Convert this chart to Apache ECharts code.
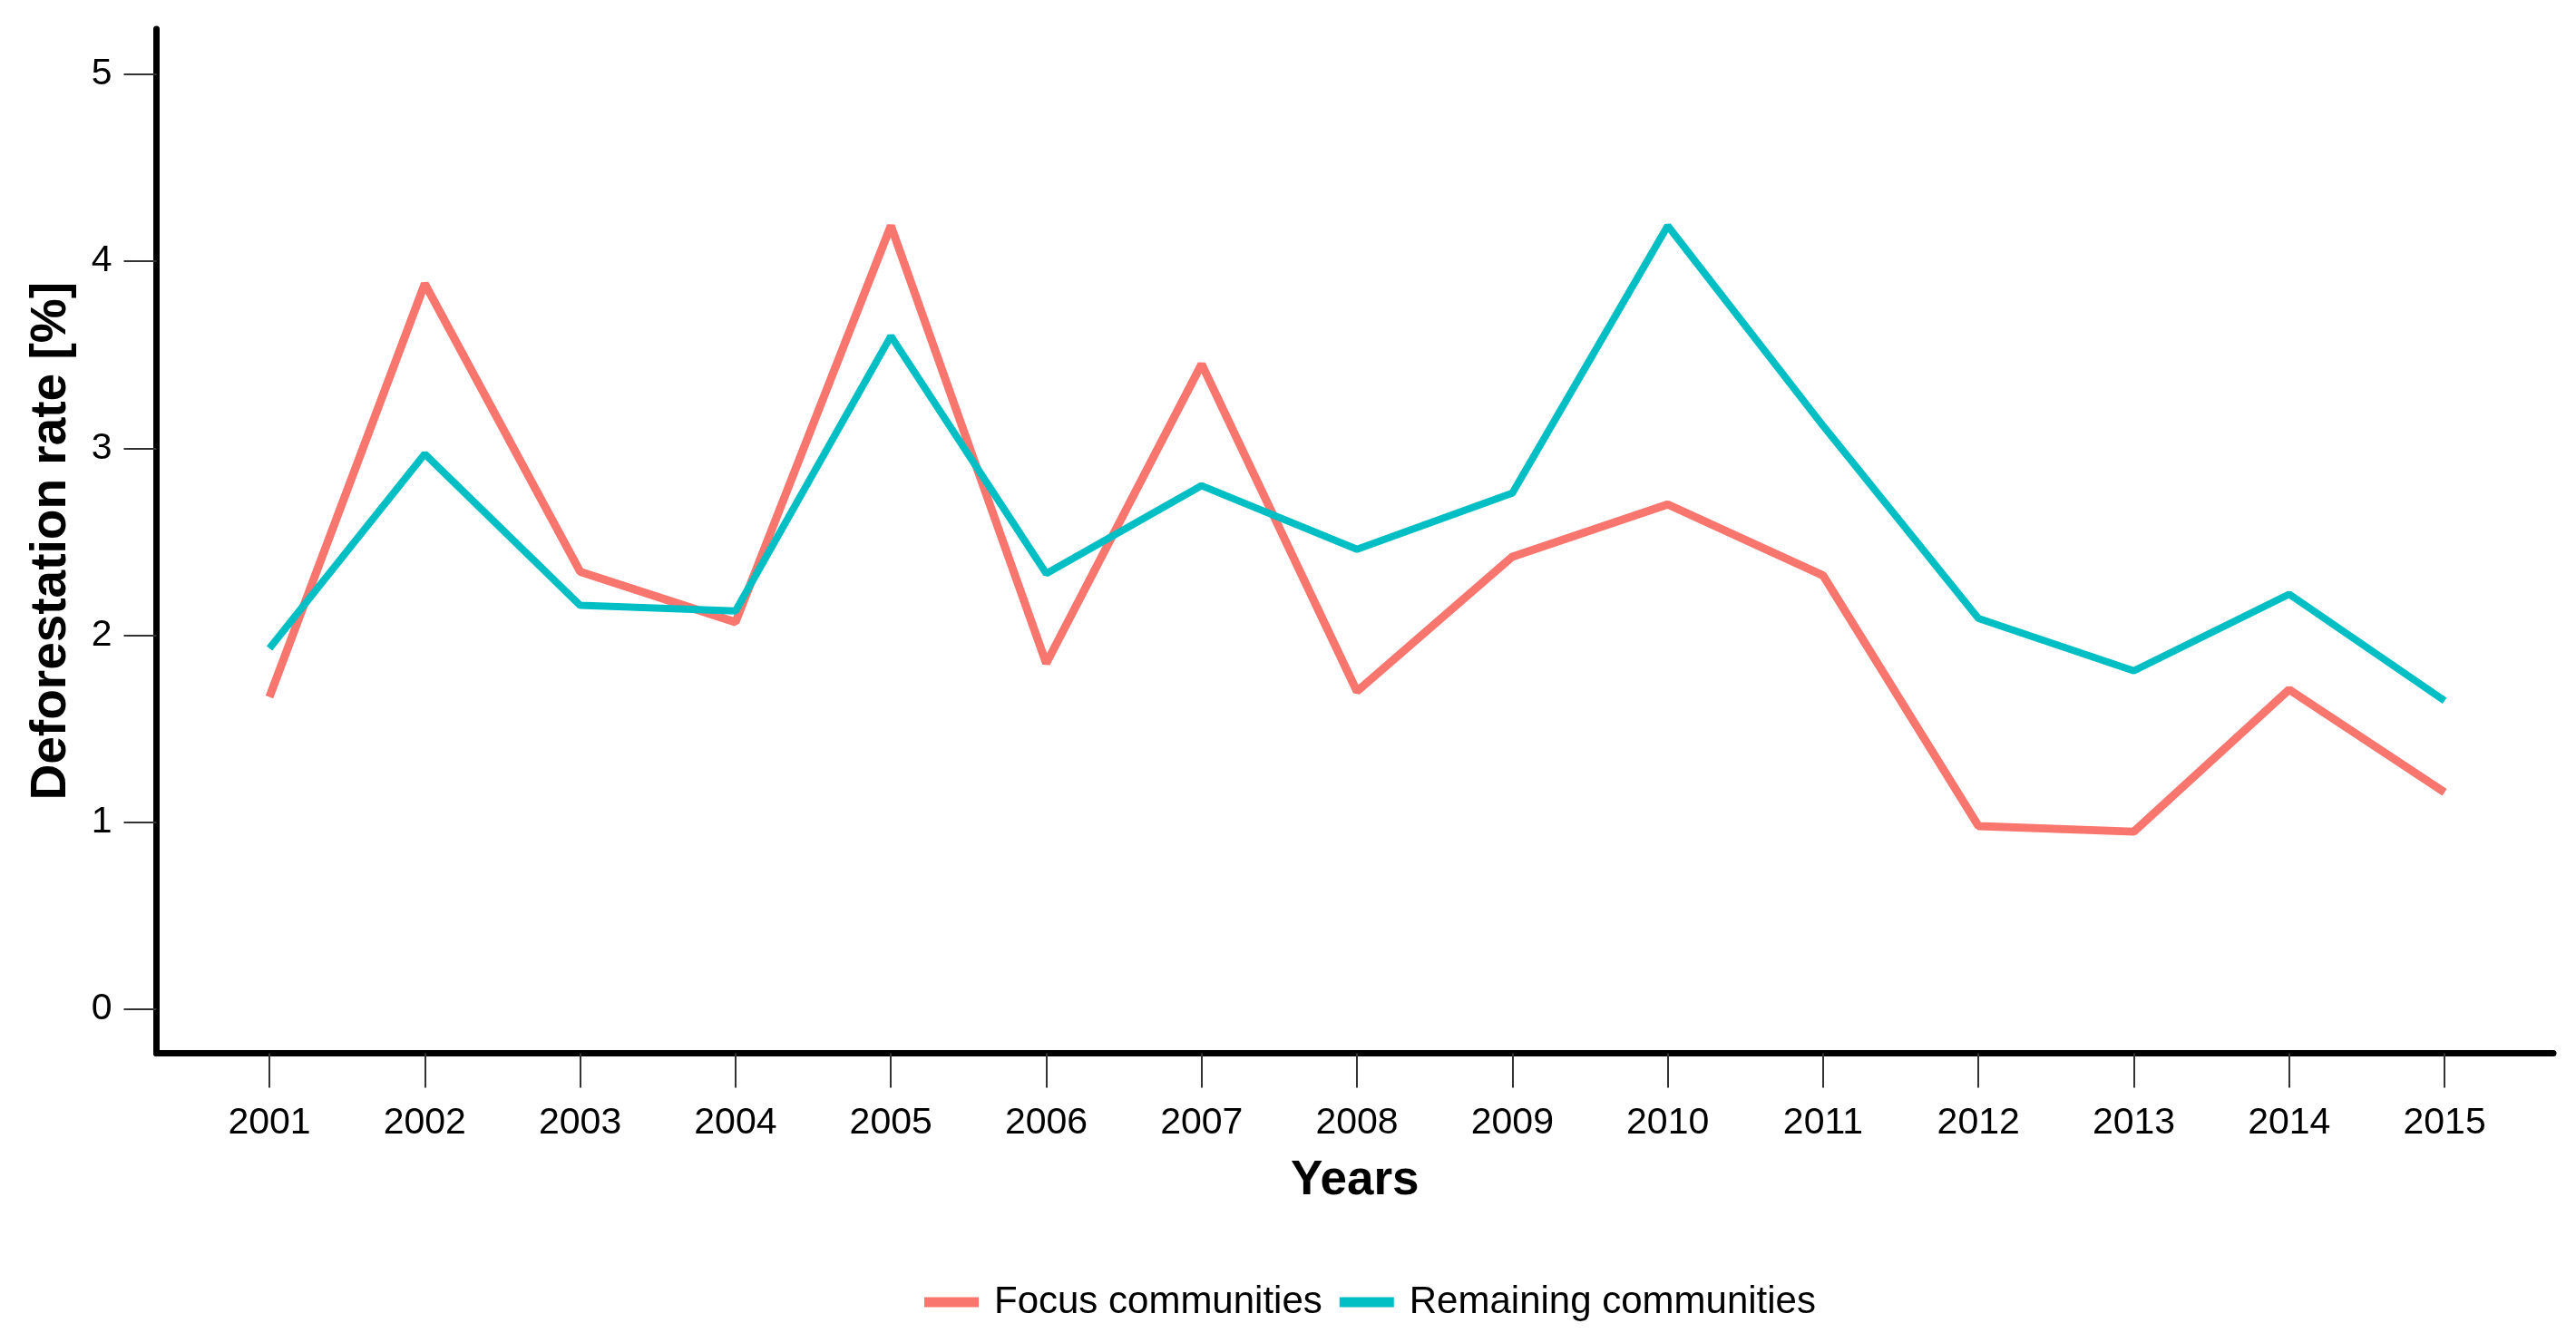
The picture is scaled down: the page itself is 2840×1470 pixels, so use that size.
<!DOCTYPE html>
<html>
<head>
<meta charset="utf-8">
<style>
html,body{margin:0;padding:0;background:#fff;}
#chart{width:2840px;height:1470px;}
</style>
<script src="https://cdn.jsdelivr.net/npm/echarts@6/dist/echarts.min.js"></script>
</head>
<body>
<div id="chart"></div>
<script>
var years = [2001,2002,2003,2004,2005,2006,2007,2008,2009,2010,2011,2012,2013,2014,2015];
var focusValues = [1.67,3.88,2.34,2.07,4.19,1.85,3.45,1.70,2.42,2.70,2.32,0.98,0.95,1.71,1.16];
var remainingValues = [1.93,2.97,2.16,2.13,3.60,2.33,2.80,2.46,2.76,4.19,3.12,2.09,1.81,2.22,1.65];
var yTicks = [0,1,2,3,4,5];
var seriesNames = ['Focus communities','Remaining communities'];

var FONT = 'Liberation Sans, Arial, sans-serif';
var chart = echarts.init(document.getElementById('chart'));
function pairs(vals){ return years.map(function(y,i){ return [y, vals[i]]; }); }

chart.setOption({
  animation: false,
  backgroundColor: '#ffffff',
  grid: { left: 172.5, right: 25, top: 32, bottom: 308.5, containLabel: false },
  legend: {
    left: 1014, top: 1410,
    itemWidth: 60, itemHeight: 11, itemGap: 19,
    icon: 'rect',
    textStyle: { fontFamily: FONT, fontSize: 42, color: '#000', padding: [0,0,0,12] },
    data: seriesNames
  },
  xAxis: {
    type: 'value',
    min: 2000.273, max: 2015.70,
    name: 'Years', nameLocation: 'middle', nameGap: 114,
    nameTextStyle: { fontFamily: FONT, fontSize: 53, fontWeight: 'bold', color: '#000' },
    axisLine: { show: true, onZero: false, lineStyle: { color: '#000', width: 7 } },
    axisTick: { show: true, customValues: years, length: 38, lineStyle: { color: '#333', width: 2 } },
    axisLabel: { customValues: years, margin: 57, fontFamily: FONT, fontSize: 41, color: '#000',
      formatter: function(v){ return String(Math.round(v)); } },
    splitLine: { show: false }
  },
  yAxis: {
    type: 'value',
    min: -0.235, max: 5.242,
    name: 'Deforestation rate [%]', nameLocation: 'middle', nameGap: 88, nameRotate: 90,
    nameTextStyle: { fontFamily: FONT, fontSize: 55, fontWeight: 'bold', color: '#000' },
    axisLine: { show: true, onZero: false, lineStyle: { color: '#000', width: 7 } },
    axisTick: { show: true, customValues: yTicks, length: 36, lineStyle: { color: '#333', width: 2 } },
    axisLabel: { customValues: yTicks, margin: 49, fontFamily: FONT, fontSize: 41, color: '#000',
      formatter: function(v){ return String(Math.round(v)); } },
    splitLine: { show: false }
  },
  series: [
    { name: seriesNames[0], type: 'line', data: pairs(focusValues), showSymbol: false, symbol: 'none',
      lineStyle: { color: '#F8766D', width: 9 }, itemStyle: { color: '#F8766D' }, z: 2 },
    { name: seriesNames[1], type: 'line', data: pairs(remainingValues), showSymbol: false, symbol: 'none',
      lineStyle: { color: '#00BFC4', width: 8 }, itemStyle: { color: '#00BFC4' }, z: 3 }
  ]
});
</script>
</body>
</html>
